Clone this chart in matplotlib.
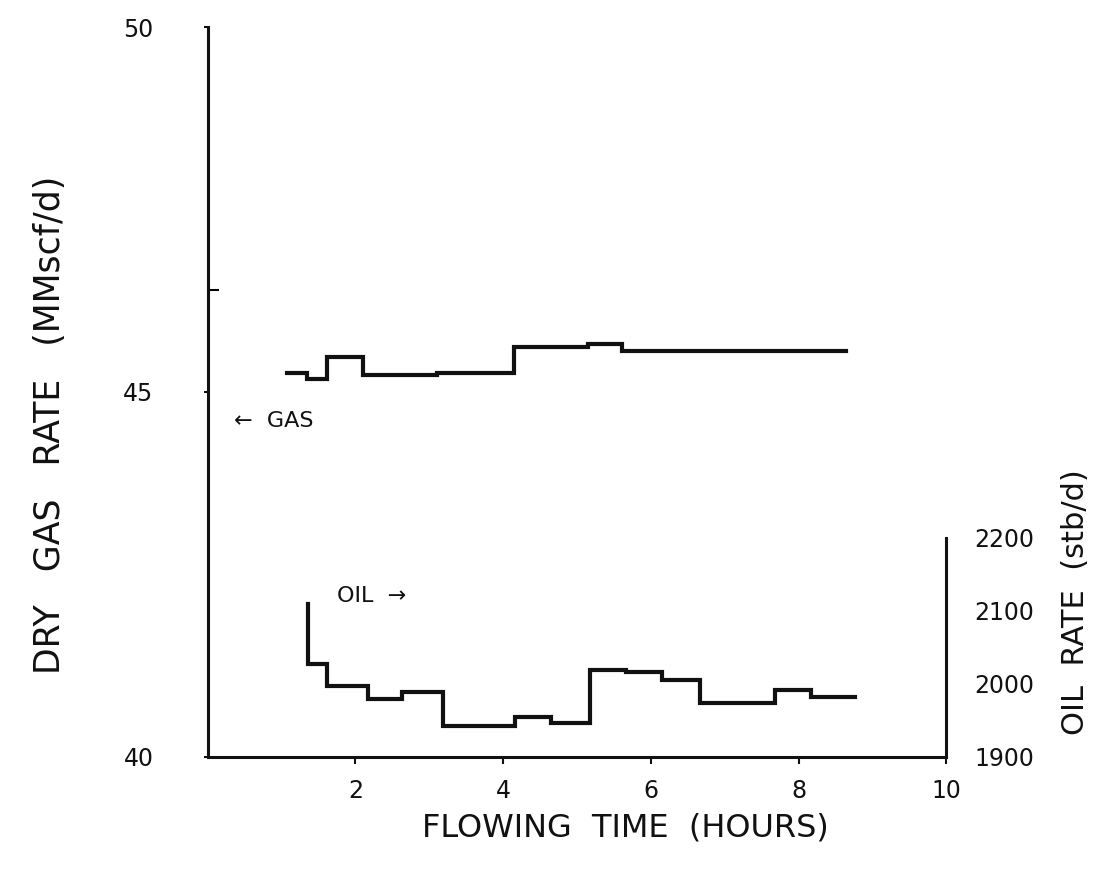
#!/usr/bin/env python3
"""Dry gas and oil rate vs flowing time (hand-drawn style step chart)."""

import matplotlib
matplotlib.use("Agg")
import matplotlib.pyplot as plt

# ── data ───────────────────────────────────────────────────────────────────
# step edges (hours) and the rate held on each step
gas_edges = [1.08, 1.35, 1.62, 2.10, 3.11, 4.15, 5.15, 5.61, 8.64]
gas_rate = [45.26, 45.18, 45.48, 45.23, 45.26, 45.62, 45.66, 45.56]   # MMscf/d

oil_edges = [1.36, 1.61, 2.17, 2.63, 3.19, 4.16, 4.65, 5.17, 5.67,
             6.15, 6.67, 7.68, 8.17, 8.77]
oil_rate = [2027, 1997, 1979, 1989, 1942, 1955, 1946, 2019, 2016,
            2005, 1974, 1991, 1982]                                   # stb/d
oil_start = 2110   # top of the initial spike

x_ticks = [2, 4, 6, 8, 10]
gas_ticks = [40, 45, 50]
oil_ticks = [1900, 2000, 2100, 2200]

INK = "#111111"
FONT = "DejaVu Sans"


def step_xy(edges, values):
    xs, ys = [], []
    for i, v in enumerate(values):
        xs += [edges[i], edges[i + 1]]
        ys += [v, v]
    return xs, ys


fig = plt.figure(figsize=(10.99, 8.74), dpi=100)
fig.patch.set_facecolor("white")
ax = fig.add_axes([0.189, 0.134, 0.672, 0.835])

ax.set_xlim(0, 10)
ax.set_ylim(40, 50)
for side in ("top", "right"):
    ax.spines[side].set_visible(False)
for side in ("left", "bottom"):
    ax.spines[side].set_linewidth(2.2)
    ax.spines[side].set_color(INK)

ax.set_xticks(x_ticks)
ax.set_xticklabels([str(t) for t in x_ticks], fontsize=17, family=FONT)
ax.set_yticks(gas_ticks)
ax.set_yticklabels([str(t) for t in gas_ticks], fontsize=17, family=FONT)
ax.set_yticks([46.4], minor=True)
ax.tick_params(axis="x", direction="out", length=5, width=1.5, pad=11,
               colors=INK)
ax.tick_params(axis="y", which="major", direction="out", length=3, width=1.5,
               pad=36, colors=INK)
ax.tick_params(axis="y", which="minor", direction="in", length=8, width=1.5)

# gas curve
gx, gy = step_xy(gas_edges, gas_rate)
ax.plot(gx, gy, color=INK, lw=3.0, solid_joinstyle="miter")

# oil curve on a twin axis (1 MMscf/d <-> 100 stb/d)
ax2 = ax.twinx()
ax2.set_ylim(1900, 2900)
for side in ("top", "left", "bottom"):
    ax2.spines[side].set_visible(False)
ax2.spines["right"].set_bounds(1900, 2200)
ax2.spines["right"].set_linewidth(2.2)
ax2.spines["right"].set_color(INK)
ax2.set_yticks(oil_ticks)
ax2.set_yticklabels([str(t) for t in oil_ticks], fontsize=17, family=FONT)
ax2.tick_params(axis="y", length=0, pad=20, colors=INK)

ox, oy = step_xy(oil_edges, oil_rate)
ox = [oil_edges[0]] + ox
oy = [oil_start] + oy
ax2.plot(ox, oy, color=INK, lw=3.0, solid_joinstyle="miter")

# annotations
ax.text(0.35, 44.6, "\u2190  GAS", fontsize=16, family=FONT, color=INK,
        va="center", ha="left")
ax.text(1.75, 42.2, "OIL  \u2192", fontsize=16, family=FONT, color=INK,
        va="center", ha="left")

# axis titles
fig.text(50 / 1099, 1 - 425 / 874, "DRY   GAS   RATE   (MMscf/d)",
         fontsize=25, family=FONT, color=INK, rotation=90,
         ha="center", va="center")
fig.text(625 / 1099, 1 - 828 / 874, "FLOWING  TIME  (HOURS)",
         fontsize=23, family=FONT, color=INK, ha="center", va="center")
fig.text(1075 / 1099, 1 - 602 / 874, "OIL  RATE  (stb/d)",
         fontsize=22, family=FONT, color=INK, rotation=90,
         ha="center", va="center")

fig.savefig("out.png", dpi=100, facecolor="white")
